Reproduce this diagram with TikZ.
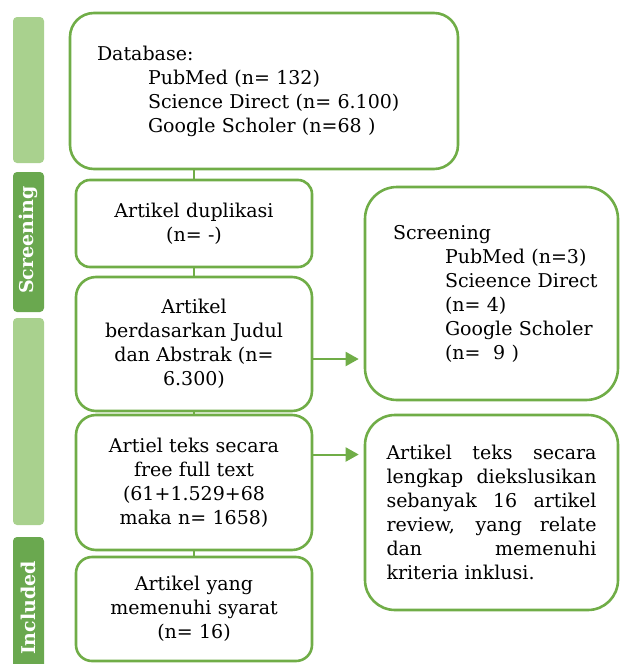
\documentclass[tikz,border=0pt]{standalone}
\usepackage{fontspec}
\setmainfont{DejaVu Serif}
\usetikzlibrary{arrows.meta}
\definecolor{gborder}{HTML}{70AD47}
\definecolor{glight}{HTML}{A9D18E}
\definecolor{gdark}{HTML}{6AA84F}
\begin{document}
\begin{tikzpicture}[x=1pt,y=-1pt,
  box/.style={draw=gborder, line width=2.6pt, fill=white, inner sep=0pt, font=\fontsize{19}{24}\selectfont},
  cbox/.style={box, align=center, text width=200pt, minimum width=236pt},
  arr/.style={draw=gborder, line width=2pt, -{Triangle[length=13pt,width=14pt]}, shorten >=5pt},
  link/.style={draw=gborder, line width=2pt},
  bar/.style={inner sep=0pt, rounded corners=4pt, minimum width=31pt},
  bartext/.style={text=white, font=\bfseries\fontsize{19}{22}\selectfont, rotate=90}
]
\useasboundingbox (0,0) rectangle (620,664);
% side bars
\node[bar, fill=glight, minimum height=146pt] (bar1) at (28.5,90) {};
\node[bar, fill=gdark, minimum height=140pt] (bar2) at (28.5,242) {};
\node[bartext] (lscr) at (28.5,240) {Screening};
\node[bar, fill=glight, minimum height=207pt] (bar3) at (28.5,421.5) {};
\node[bar, fill=gdark, minimum height=140pt] (bar4) at (28.5,607) {};
\node[bartext] (linc) at (28.5,608) {Included};
% main column
\node[box, minimum width=388pt, minimum height=156pt, rounded corners=24pt, text width=334pt, align=left] (db) at (264,91)
  {Database:\\\hspace*{51pt}PubMed (n= 132)\\\hspace*{51pt}Science Direct (n= 6.100)\\\hspace*{51pt}Google Scholer (n=68 )};
\node[cbox, minimum height=87pt, rounded corners=14pt] (dup) at (194,223.5)
  {Artikel duplikasi\\(n= -)};
\node[cbox, minimum height=134pt, rounded corners=20pt] (abs) at (194,344)
  {Artikel\\berdasarkan Judul\\dan Abstrak (n=\\6.300)};
\node[cbox, minimum height=135pt, rounded corners=20pt] (full) at (194,482.5)
  {Artiel teks secara\\free full text\\(61+1.529+68\\maka n= 1658)};
\node[cbox, minimum height=104pt, rounded corners=16pt] (inc) at (194,609)
  {Artikel yang\\memenuhi syarat\\(n= 16)};
% right column
\node[box, minimum width=253pt, minimum height=213pt, rounded corners=32pt, text width=197pt, align=left] (scr) at (491.5,293.5)
  {Screening\\\hspace*{52pt}\mbox{PubMed (n=3)}\\\hspace*{52pt}\mbox{Scieence Direct}\\\hspace*{52pt}\mbox{(n= 4)}\\\hspace*{52pt}\mbox{Google Scholer}\\\hspace*{52pt}\mbox{(n=\ \ 9 )}};
\node[box, minimum width=253pt, minimum height=195pt, rounded corners=30pt, text width=210pt, align=justify] (excl) at (491.5,512.5)
  {Artikel teks secara\linebreak lengkap diekslusikan\linebreak sebanyak 16 artikel\linebreak review, yang relate\linebreak dan memenuhi\linebreak kriteria inklusi.};
% connectors
\draw[link] (dup.north) -- (dup.north |- db.south);
\draw[link] (abs.north) -- (abs.north |- dup.south);
\draw[link] (full.north) -- (full.north |- abs.south);
\draw[link] (inc.north) -- (inc.north |- full.south);
\draw[arr] ([yshift=-15pt]abs.east) -- ([yshift=-15pt]abs.east -| scr.west);
\draw[arr] ([yshift=28pt]full.east) -- ([yshift=28pt]full.east -| excl.west);
\end{tikzpicture}
\end{document}
